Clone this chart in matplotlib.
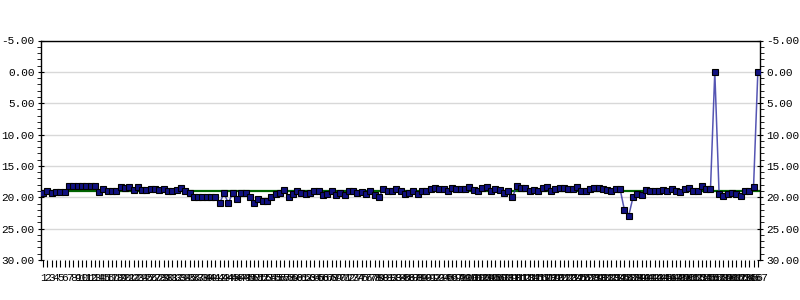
import numpy as np
import matplotlib.pyplot as plt
from matplotlib.ticker import MultipleLocator, FormatStrFormatter

# Data
#################
values = [
    19.37, 19.0, 19.37, 19.2, 19.2, 19.2, 18.2, 18.2, 18.2, 18.2,
    18.2, 18.2, 18.2, 19.1, 18.7, 19.05, 19.05, 19.05, 18.36, 18.55,
    18.36, 18.9, 18.36, 18.9, 18.9, 18.7, 18.7, 18.9, 18.7, 19.0,
    19.0, 18.84, 18.52, 19.0, 19.37, 20.0, 20.0, 20.0, 20.0, 20.0,
    20.0, 20.9, 19.37, 20.9, 19.37, 20.26, 19.37, 19.37, 20.0, 20.9,
    20.26, 20.58, 20.53, 20.0, 19.47, 19.37, 18.84, 20.0, 19.47, 19.0,
    19.37, 19.47, 19.37, 19.0, 19.0, 19.68, 19.47, 19.0, 19.68, 19.37,
    19.68, 19.0, 19.0, 19.37, 19.15, 19.47, 19.0, 19.68, 20.0, 18.68,
    19.0, 19.0, 18.68, 19.0, 19.47, 19.37, 19.0, 19.52, 19.0, 19.0,
    18.68, 18.52, 18.68, 18.68, 19.05, 18.52, 18.68, 18.68, 18.68, 18.36,
    18.84, 19.0, 18.52, 18.36, 19.05, 18.68, 18.84, 19.37, 19.0, 20.0,
    18.2, 18.52, 18.52, 19.05, 18.84, 19.05, 18.52, 18.36, 19.05, 18.68,
    18.52, 18.52, 18.68, 18.68, 18.36, 19.05, 19.05, 18.68, 18.52, 18.52,
    18.68, 18.84, 19.05, 18.68, 18.68, 22.0, 22.96, 20.0, 19.47, 19.68,
    18.84, 19.0, 19.0, 19.0, 18.84, 19.05, 18.68, 19.0, 19.2, 18.68,
    18.52, 19.05, 19.05, 18.2, 18.68, 18.68, 0.0, 19.47, 19.84, 19.47,
    19.37, 19.52, 19.84, 19.05, 19.05, 18.36, 0.0,
]
labels = [str(i) for i in range(1, len(values) + 1)]
avg_line = 19.05
#################

# Plot
#################
fig = plt.figure(figsize=(8, 3), dpi=100)
ax = fig.add_axes([0.05125, 0.1333, 0.89875, 0.7317])

x = np.arange(1, len(values) + 1)
ax.axhline(avg_line, color='#006400', lw=1.6, zorder=2)
ax.plot(x, values, color='#2a2aa0', lw=1.1, alpha=0.8, zorder=3)
ax.plot(x, values, ls='none', marker='s', ms=4.2, mfc='#101080', mec='black', mew=0.8, zorder=4)

ax.set_xlim(0.5, len(values) + 0.5)
ax.set_ylim(30, -5)
ax.set_xticks(x)
ax.set_xticklabels(labels, fontsize=8, family='Liberation Mono')

ax.yaxis.set_major_locator(MultipleLocator(5))
ax.yaxis.set_minor_locator(MultipleLocator(1))
ax.yaxis.set_major_formatter(FormatStrFormatter('%.2f'))
ax.grid(axis='y', color='#d8d8d8', lw=1)
ax.set_axisbelow(True)

ax.tick_params(axis='y', which='major', length=5, direction='inout', labelsize=8,
               left=True, right=True, labelleft=True, labelright=True, pad=2)
ax.tick_params(axis='y', which='minor', length=3, direction='out', left=True, right=True)
ax.tick_params(axis='x', length=5, direction='out', pad=4)
for lab in ax.get_yticklabels():
    lab.set_family('Liberation Mono')

ax.spines['bottom'].set_visible(False)
for s in ['top', 'left', 'right']:
    ax.spines[s].set_color('black')
    ax.spines[s].set_linewidth(1)

plt.savefig('out.png', dpi=100)
plt.close()
#################
